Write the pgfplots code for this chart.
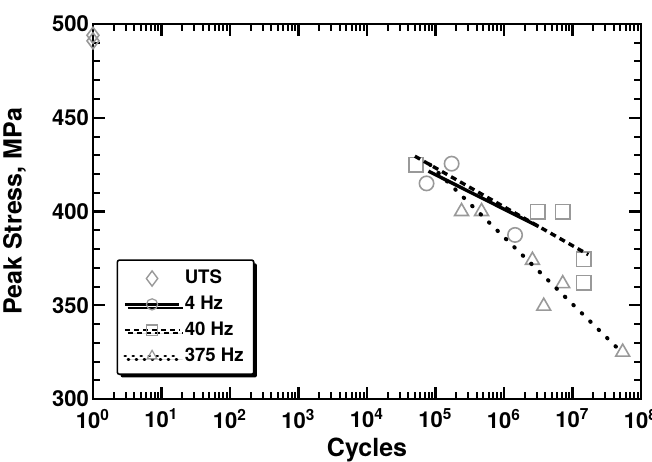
\documentclass[border=0pt]{standalone}
\usepackage{fontspec}
\setmainfont{TeX Gyre Heros}
\usepackage{pgfplots}
\pgfplotsset{compat=1.18}
\usetikzlibrary{calc,shadows}
\pgfplotsset{
  markonlylegend/.style={legend image code/.code={\draw[##1] plot coordinates {(0.48cm,0cm)};}},
  linemarklegend/.style={legend image code/.code={
    \draw[##1, mark=none] (0cm,0cm) -- (0.96cm,0cm);
    \draw[##1] plot coordinates {(0.48cm,0cm)};}},
}
\begin{document}
\begin{tikzpicture}
\begin{axis}[
  xmode=log, log basis x=10,
  scale only axis, width=274pt, height=187.5pt,
  xmin=1, xmax=1e8, ymin=300, ymax=500,
  xticklabels={10\textsuperscript{0},10\textsuperscript{1},10\textsuperscript{2},10\textsuperscript{3},10\textsuperscript{4},10\textsuperscript{5},10\textsuperscript{6},10\textsuperscript{7},10\textsuperscript{8}},
  ytick={300,350,400,450,500},
  yticklabels={300,350,400,450,500},
  minor ytick={310,320,330,340,360,370,380,390,410,420,430,440,460,470,480,490},
  xtick align=inside, ytick align=inside,
  xtick pos=both, ytick pos=both,
  major tick length=6pt, minor tick length=3.5pt,
  major tick style={draw=black, line width=1.2pt},
  minor tick style={draw=black, line width=1pt},
  axis line style={line width=1pt},
  ticklabel style={font=\bfseries\fontsize{11}{13}\selectfont},
  xticklabel style={yshift=-1.5pt},
  yticklabel style={xshift=1.5pt},
  xlabel={\bfseries Cycles}, ylabel={\bfseries Peak Stress, MPa},
  label style={font=\bfseries\fontsize{12.5}{14}\selectfont},
  xlabel style={at={(axis description cs:0.5,0)}, anchor=north, yshift=-16pt},
  ylabel style={at={(axis description cs:0,0.5)}, anchor=south, yshift=30pt},
  clip mode=individual,
  legend style={at={(0.043,0.064)}, anchor=south west, draw=black, line width=0.8pt,
    fill=white, rounded corners=1pt, font=\bfseries\fontsize{9.3}{10.5}\selectfont,
    drop shadow={shadow xshift=1.6pt, shadow yshift=-1.6pt, fill=black, opacity=1},
    row sep=0.6pt, inner xsep=3pt, inner ysep=3pt},
  legend cell align=left,
]
% legend images
\addlegendimage{markonlylegend, only marks, mark=diamond, mark size=3.8pt, mark options={gray!80, solid, line width=0.7pt}}
\addlegendentry{UTS}
\addlegendimage{linemarklegend, black, line width=1.1pt, mark=o, mark size=2.8pt, mark options={gray!80, solid, line width=0.6pt}}
\addlegendentry{4 Hz}
\addlegendimage{linemarklegend, black, line width=1.1pt, dash pattern=on 2.5pt off 2pt, mark=square, mark size=2.6pt, mark options={gray!80, solid, line width=0.6pt}}
\addlegendentry{40 Hz}
\addlegendimage{linemarklegend, black, line width=1.4pt, line cap=round, dash pattern=on 0.5pt off 3.5pt, mark=triangle, mark size=2.8pt, mark options={gray!80, solid, line width=0.6pt}}
\addlegendentry{375 Hz}

% UTS
\addplot[forget plot, only marks, mark=diamond, mark size=4pt, gray!80, mark options={line width=0.8pt}]
  coordinates {(1,494) (1,491)};
% 4 Hz data
\addplot[forget plot, only marks, mark=o, mark size=3.6pt, gray!80, mark options={line width=0.8pt}]
  coordinates {(7.4e4,415) (1.72e5,425.5) (1.45e6,387.5)};
% 40 Hz data
\addplot[forget plot, only marks, mark=square, mark size=3.6pt, gray!80, mark options={line width=0.8pt}]
  coordinates {(5.2e4,425) (3.1e6,400) (7.2e6,400) (1.45e7,374.5) (1.45e7,362)};
% 375 Hz data
\addplot[forget plot, only marks, mark=triangle, mark size=4pt, gray!80, mark options={line width=0.8pt}]
  coordinates {(2.4e5,400) (4.7e5,400) (2.6e6,374) (3.8e6,349.5) (7.2e6,361.5) (5.4e7,325)};
% fits
\addplot[forget plot, black, line width=1.7pt] coordinates {(7.9e4,421.5) (3.2e6,392)};
\addplot[forget plot, black, line width=1.7pt, dash pattern=on 3pt off 2.2pt] coordinates {(5.0e4,429.5) (1.7e7,377)};
\addplot[forget plot, black, line width=2pt, line cap=round, dash pattern=on 0.3pt off 5.6pt] coordinates {(8.3e4,425) (5.2e7,325)};
\end{axis}
\pgfresetboundingbox
\path[use as bounding box] ($(current axis.south west)+(-46.5pt,-31pt)$) rectangle ($(current axis.north east)+(5.5pt,12pt)$);
\end{tikzpicture}
\end{document}
